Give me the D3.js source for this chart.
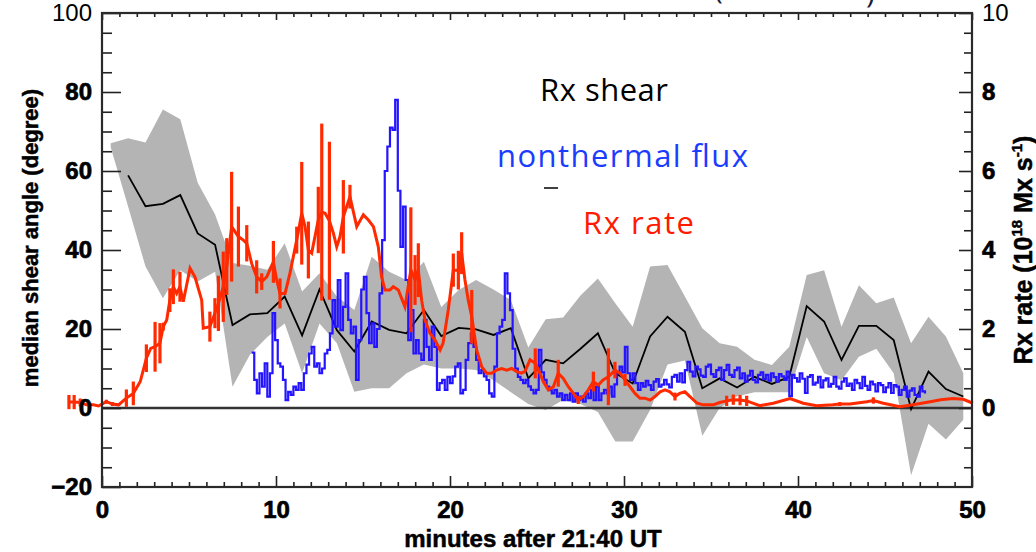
<!DOCTYPE html>
<html>
<head>
<meta charset="utf-8">
<script src="https://cdn.jsdelivr.net/npm/d3@7"></script>
<style>
  html, body { margin: 0; padding: 0; background: #fff; }
  svg { display: block; }
</style>
</head>
<body>
<div id="chart"></div>
<script>
// shear range (gray band) and median shear, one sample per minute
const bandMinutes = [
  0.5, 1.5, 2.5, 3.5, 4.5, 5.5, 6.5, 7.5, 8.5, 9.5,
  10.5, 11.5, 12.5, 13.5, 14.5, 15.5, 16.5, 17.5, 18.5, 19.5,
  20.5, 21.5, 22.5, 23.5, 24.5, 25.5, 26.5, 27.5, 28.5, 29.5,
  30.5, 31.5, 32.5, 33.5, 34.5, 35.5, 36.5, 37.5, 38.5, 39.5,
  40.5, 41.5, 42.5, 43.5, 44.5, 45.5, 46.5, 47.5, 48.5, 49.5
]
const shearUpper = [
  67, 68.3, 67.2, 75.6, 73.1, 57, 49, 36.7, 36, 35,
  41.7, 29.5, 34.1, 28.2, 24.8, 38.3, 34.5, 32.4, 37, 25.6,
  29.9, 32.4, 30, 27.3, 15.3, 22.5, 22.9, 28.5, 32.8, 26.5,
  20.6, 35.8, 36.2, 28.2, 20.2, 16.4, 15.5, 12.2, 10.9, 15.5,
  33.7, 34.9, 20.6, 31.1, 26.5, 28, 16.4, 23.1, 18.1, 8.8
]
const shearLower = [
  66, 51, 35.8, 27.8, 34.9, 32, 34.5, 5.4, 13.5, 18,
  21.4, 8.8, 21.4, 16.4, 4.1, 5, 5, 8.8, 11, 10,
  10, 9.6, 7, 4, 1, -0.5, 2, 1, -1, -8.5,
  -8.5, -0.5, 11, 12, -7, 0, 3, 4, 4, 4,
  18, 8.8, 7, 13, 15, 8.8, -17, -4, -8, -3
]
const medianMinutes = bandMinutes.slice(1)
const medianShear = [
  58.9, 51.1, 51.7, 53.9, 44.2, 41.3, 21.0, 23.7, 24.0, 28.2,
  18.4, 30.0, 19.7, 14.3, 21.9, 19.8, 18.9, 24.8, 18.2, 20.3,
  19.9, 18.5, 20.2, 7.5, 12.2, 11.3, 15.0, 18.9, 8.8, 6.2,
  18.1, 23.1, 19.3, 5.0, 7.5, 5.2, 7.9, 6.1, 7.9, 25.8,
  21.9, 12.2, 20.8, 20.8, 17.2, -0.3, 9.2, 4.8, 2.9
]

// nonthermal (HXR) flux, arbitrary units on the left scale
const fluxStart = 8.6
const fluxCadence = 0.15
const nonthermalFlux = [
  14.0, 7.1, 3.7, 8.8, 5.4, 11.3, 2.9, 8.8, 24.0, 17.2,
  11.3, 10.5, 7.1, 2.0, 4.1, 3.3, 5.4, 4.6, 6.3, 4.6,
  8.8, 11.0, 13.8, 15.5, 10.5, 11.3, 8.8, 10.0, 13.8, 14.7,
  18.9, 27.3, 20.6, 32.4, 19.7, 25.6, 34.1, 22.3, 18.9, 20.6,
  7.1, 17.2, 30.0, 33.2, 24.0, 16.4, 21.4, 15.5, 20.0, 29.0,
  42.5, 60.0, 66.2, 71.0, 70.4, 78.0, 55.0, 40.8, 51.0, 32.4,
  17.2, 24.8, 13.8, 17.2, 13.8, 12.2, 22.3, 15.5, 12.2, 20.6,
  15.5, 4.6, 6.3, 7.1, 4.6, 7.9, 6.3, 8.0, 10.5, 11.3,
  3.7, 4.6, 12.2, 16.4, 18.9, 15.5, 12.2, 8.8, 9.6, 8.0,
  7.1, 3.7, 2.9, 10.5, 18.9, 20.6, 22.3, 34.1, 29.0, 24.8,
  15.0, 10.0, 7.9, 7.1, 6.3, 7.1, 5.5, 4.6, 3.7, 4.6,
  14.7, 9.0, 7.1, 5.4, 4.5, 3.7, 4.6, 2.9, 3.7, 2.0,
  3.3, 2.0, 3.7, 1.6, 3.7, 2.0, 2.9, 1.6, 3.7, 2.5,
  4.6, 2.0, 5.4, 2.0, 3.7, 4.6, 3.7, 5.4, 2.9, 6.0,
  8.8, 10.5, 9.0, 15.5, 8.8, 7.1, 8.8, 6.3, 4.6, 6.3,
  5.4, 6.9, 5.8, 4.6, 6.7, 7.3, 5.4, 5.9, 7.1, 6.0,
  5.2, 7.9, 8.4, 6.7, 8.8, 6.5, 9.6, 11.7, 9.2, 8.0,
  10.5, 9.8, 8.2, 7.9, 10.5, 11.0, 8.6, 7.9, 9.6, 10.2,
  7.1, 9.6, 10.9, 8.4, 7.9, 9.6, 10.2, 7.5, 8.8, 6.7,
  8.2, 9.4, 7.1, 6.5, 8.4, 9.0, 7.3, 8.4, 6.9, 8.8,
  7.8, 6.7, 8.6, 8.0, 7.1, 9.2, 3.0, 8.4, 7.6, 6.7,
  8.8, 7.4, 3.8, 7.9, 8.3, 5.9, 6.4, 7.9, 5.2, 7.0,
  7.5, 5.4, 6.1, 7.9, 5.4, 4.9, 6.7, 7.5, 5.6, 6.2,
  4.6, 7.1, 6.3, 5.0, 7.9, 5.6, 4.6, 6.7, 6.0, 4.2,
  6.3, 5.8, 4.0, 5.2, 6.3, 3.8, 5.8, 5.4, 3.3, 4.6,
  5.4, 2.9, 4.4, 5.0, 3.3, 2.9, 5.4, 4.2, 3.7
]

// reconnection rate (10^18 Mx/s) with its error half-width
const rxMinutes = [
  -1.9, -1.6, -1.25, -0.9, -0.5, -0.2, 0.25, 0.6, 0.95, 1.4,
  1.8, 2.2, 2.55, 2.8, 3.05, 3.33, 3.52, 3.72, 3.9, 4.1,
  4.29, 4.48, 4.67, 5.06, 5.34, 5.73, 5.82, 6.2, 6.49, 6.69,
  6.97, 7.17, 7.45, 7.84, 8.12, 8.32, 8.6, 8.89, 9.18, 9.47,
  9.85, 10.04, 10.23, 10.52, 10.8, 11.19, 11.48, 11.67, 11.86, 12.05,
  12.24, 12.43, 12.63, 12.82, 13.07, 13.3, 13.49, 13.68, 13.87, 14.25,
  14.64, 15.02, 15.31, 15.6, 15.88, 16.07, 16.26, 16.55, 16.74, 17.03,
  17.41, 17.75, 17.99, 18.18, 18.37, 18.56, 18.85, 19.14, 19.43, 19.6,
  19.9, 20.19, 20.48, 20.67, 20.86, 21.05, 21.25, 21.53, 21.82, 22.1,
  22.39, 22.68, 22.97, 23.26, 23.55, 23.83, 24.1, 24.3, 24.6, 24.9,
  25.17, 25.36, 25.65, 25.94, 26.22, 26.51, 26.8, 27.09, 27.37, 27.66,
  27.95, 28.24, 28.52, 28.8, 29.1, 29.48, 29.77, 30.06, 30.34, 30.63,
  30.92, 31.2, 31.5, 31.78, 32.07, 32.36, 32.64, 32.93, 33.2, 33.5,
  33.79, 34.2, 34.56, 35.13, 35.5, 35.9, 36.28, 36.67, 37.05, 37.8,
  38.58, 39.54, 40.3, 41.07, 42.0, 42.4, 42.99, 43.95, 44.33, 44.9,
  45.86, 46.6, 47.6, 48.2, 48.9, 49.5, 50.05
]
const rxRate = [
  0.15, 0.15, 0.14, 0.08, 0.08, 0.05, 0.16, 0.10, 0.08, 0.25,
  0.37, 0.67, 1.26, 1.51, 1.55, 1.64, 2.06, 2.23, 2.73, 3.07,
  2.90, 3.07, 2.69, 3.54, 3.32, 2.73, 2.02, 2.06, 2.40, 2.65,
  3.07, 3.58, 4.59, 4.34, 4.25, 4.17, 3.66, 3.32, 3.20, 3.32,
  3.70, 3.24, 2.90, 2.90, 3.41, 4.25, 4.93, 4.59, 4.00, 3.92,
  4.34, 4.76, 4.96, 4.93, 4.74, 4.42, 4.08, 4.34, 4.84, 5.35,
  4.59, 4.89, 4.76, 4.59, 4.08, 3.32, 2.99, 2.99, 3.07, 2.99,
  2.56, 3.50, 3.24, 3.49, 2.73, 2.23, 1.89, 1.72, 1.47, 1.64,
  2.48, 3.49, 3.49, 3.92, 3.24, 2.73, 2.31, 1.47, 1.05, 0.88,
  0.88, 0.96, 1.00, 0.96, 1.00, 0.92, 0.88, 0.92, 1.22, 1.13,
  0.88, 0.67, 0.46, 0.54, 0.88, 0.75, 0.54, 0.37, 0.20, 0.29,
  0.46, 0.67, 0.58, 0.71, 0.79, 0.96, 0.88, 0.71, 0.54, 0.37,
  0.25, 0.25, 0.20, 0.29, 0.41, 0.46, 0.41, 0.29, 0.37, 0.41,
  0.29, 0.12, 0.08, 0.08, 0.14, 0.18, 0.21, 0.20, 0.18, 0.06,
  0.12, 0.24, 0.12, 0.06, 0.08, 0.10, 0.10, 0.16, 0.19, 0.12,
  0.03, 0.08, 0.16, 0.21, 0.24, 0.22, 0.12
]
const rxError = [
  0.18, 0.18, 0.10, 0, 0, 0, 0.05, 0.05, 0.03, 0.22,
  0.30, 0, 0.35, 0, 0.63, 0.51, 0.10, 0, 0.30, 0.44,
  0, 0.38, 0, 0, 0, 0, 0, 0.38, 0.38, 0.70,
  0.89, 0.72, 1.39, 0.76, 0, 0.46, 0, 0.42, 0.21, 0,
  0.53, 0, 0.38, 0, 0, 0.34, 1.30, 0, 0.72, 0,
  0, 0.84, 2.24, 0, 2.00, 0, 0, 0, 0.93, 0.30,
  0, 0, 0, 0, 0, 0, 0, 0, 0, 0,
  0, 1.58, 0.63, 0.68, 0, 0, 0, 0, 0, 0,
  0, 0.42, 0.49, 0.53, 0, 0, 0.68, 0, 0, 0,
  0, 0, 0, 0, 0, 0, 0, 0, 0, 0.38,
  0, 0, 0, 0, 0.34, 0, 0, 0, 0.10, 0,
  0, 0.25, 0, 0, 0.72, 0.21, 0, 0.15, 0, 0,
  0, 0, 0, 0, 0, 0, 0, 0.10, 0, 0,
  0, 0, 0, 0, 0, 0.13, 0.13, 0.13, 0.13, 0,
  0, 0, 0, 0, 0, 0.05, 0, 0, 0.08, 0,
  0, 0, 0, 0, 0, 0, 0
]

const xTicks = [0, 10, 20, 30, 40, 50]
const shearTicks = [-20, 0, 20, 40, 60, 80, 100]
const rateTicks = [0, 2, 4, 6, 8, 10]

const width = 1036
const height = 552
const padding = { left: 102, top: 13, right: 64, bottom: 65 }
const chartWidth = width - (padding.left + padding.right)
const chartHeight = height - (padding.top + padding.bottom)

const tickFont = "'Liberation Sans', Arial, Helvetica, sans-serif"
const labelFont = "'Open Sans', 'Noto Sans', sans-serif"

const xScale = d3.scaleLinear().domain([0, 50]).range([0, chartWidth])
const yShear = d3.scaleLinear().domain([-20, 100]).range([chartHeight, 0])
const yRate = d3.scaleLinear().domain([-2, 10]).range([chartHeight, 0])
const yFlux = d3.scaleLinear().domain([-20, 100]).range([chartHeight, 0])

const svg = d3.select('#chart').append('svg')
    .attr('width', width)
    .attr('height', height)

const chart = svg.append('g')
    .attr('transform', `translate(${padding.left}, ${padding.top})`)

// gray band: min/max shear
const band = bandMinutes.map((t, i) => ({ t, lo: shearLower[i], hi: shearUpper[i] }))
chart.append('path')
    .datum(band)
    .attr('fill', '#b4b4b4')
    .attr('d', d3.area()
      .x(d => xScale(d.t))
      .y0(d => yShear(d.lo))
      .y1(d => yShear(d.hi)))

// zero level
chart.append('line')
    .attr('x1', xScale(0))
    .attr('x2', xScale(50))
    .attr('y1', yShear(0))
    .attr('y2', yShear(0))
    .attr('stroke', '#333')
    .attr('stroke-width', 2.5)

// median shear
chart.append('path')
    .datum(medianMinutes.map((t, i) => ({ t, v: medianShear[i] })))
    .attr('fill', 'none')
    .attr('stroke', '#000')
    .attr('stroke-width', 1.8)
    .attr('d', d3.line().x(d => xScale(d.t)).y(d => yShear(d.v)))

// nonthermal flux, drawn as a histogram-style trace
const flux = nonthermalFlux.map((v, i) => ({ t: fluxStart + i * fluxCadence, v }))
chart.append('path')
    .datum(flux)
    .attr('fill', 'none')
    .attr('stroke', '#2414ff')
    .attr('stroke-width', 2.2)
    .attr('d', d3.line().curve(d3.curveStepAfter).x(d => xScale(d.t)).y(d => yFlux(d.v)))

// reconnection rate with error bars
const rx = rxMinutes.map((t, i) => ({ t, v: rxRate[i], e: rxError[i] }))
chart.append('path')
    .datum(rx)
    .attr('fill', 'none')
    .attr('stroke', '#ff2a00')
    .attr('stroke-width', 3)
    .attr('d', d3.line().x(d => xScale(d.t)).y(d => yRate(d.v)))

chart.selectAll('line.err')
    .data(rx.filter(d => d.e > 0)).enter()
  .append('line')
    .classed('err', true)
    .attr('x1', d => xScale(d.t))
    .attr('x2', d => xScale(d.t))
    .attr('y1', d => yRate(d.v - d.e))
    .attr('y2', d => yRate(d.v + d.e))
    .attr('stroke', '#ff2a00')
    .attr('stroke-width', 3.2)

// axes: major ticks labelled, minor ticks inward
function styleAxis(g, bold) {
  g.select('.domain').remove()
  g.selectAll('.tick line')
      .attr('stroke', '#222')
      .attr('stroke-width', 1.6)
  g.selectAll('.tick text')
      .attr('font-family', tickFont)
      .attr('font-size', 24)
      .attr('font-weight', d => (bold(d) ? 'bold' : 'normal'))
      .attr('fill', '#000')
      .attr('stroke', d => (bold(d) ? '#000' : 'none'))
      .attr('stroke-width', 0.7)
}

const minorMinutes = d3.range(0, 51).filter(m => m % 10 !== 0)
const minorShear = d3.range(-20, 101, 5).filter(v => v % 20 !== 0)
const minorRate = d3.range(-2, 10.01, 0.5).filter(v => v % 2 !== 0)

chart.append('g')
    .attr('transform', `translate(0, ${chartHeight})`)
    .call(d3.axisBottom(xScale).tickValues(xTicks).tickSizeInner(-11).tickSizeOuter(0).tickPadding(14))
    .call(g => styleAxis(g, () => true))

chart.append('g')
    .attr('transform', `translate(0, ${chartHeight})`)
    .call(d3.axisBottom(xScale).tickValues(minorMinutes).tickSizeInner(-5).tickSizeOuter(0).tickFormat(''))
    .call(g => styleAxis(g, () => true))

chart.append('g')
    .call(d3.axisTop(xScale).tickValues(xTicks).tickSizeInner(-7).tickSizeOuter(0).tickFormat(''))
    .call(g => styleAxis(g, () => true))

chart.append('g')
    .call(d3.axisTop(xScale).tickValues(minorMinutes).tickSizeInner(-4).tickSizeOuter(0).tickFormat(''))
    .call(g => styleAxis(g, () => true))

chart.append('g')
    .call(d3.axisLeft(yShear).tickValues(shearTicks).tickSizeInner(-19).tickSizeOuter(0).tickPadding(10))
    .call(g => styleAxis(g, d => d !== 100))

chart.append('g')
    .call(d3.axisLeft(yShear).tickValues(minorShear).tickSizeInner(-10).tickSizeOuter(0).tickFormat(''))
    .call(g => styleAxis(g, () => true))

chart.append('g')
    .attr('transform', `translate(${chartWidth}, 0)`)
    .call(d3.axisRight(yRate).tickValues(rateTicks).tickSizeInner(-13).tickSizeOuter(0).tickPadding(10))
    .call(g => styleAxis(g, d => d !== 10))

chart.append('g')
    .attr('transform', `translate(${chartWidth}, 0)`)
    .call(d3.axisRight(yRate).tickValues(minorRate).tickSizeInner(-8).tickSizeOuter(0).tickFormat(''))
    .call(g => styleAxis(g, () => true))

// plot frame
chart.append('rect')
    .attr('width', chartWidth)
    .attr('height', chartHeight)
    .attr('fill', 'none')
    .attr('stroke', '#2a2a2a')
    .attr('stroke-width', 2.2)

// axis titles
svg.append('text')
    .attr('transform', 'translate(38, 238) rotate(-90)')
    .attr('text-anchor', 'middle')
    .attr('font-family', tickFont)
    .attr('font-weight', 'bold')
    .attr('font-size', 22)
    .attr('stroke', '#000')
    .attr('stroke-width', 0.5)
    .text('median shear angle (degree)')

svg.append('text')
    .attr('x', 533)
    .attr('y', 547)
    .attr('text-anchor', 'middle')
    .attr('font-family', tickFont)
    .attr('font-weight', 'bold')
    .attr('font-size', 24)
    .attr('stroke', '#000')
    .attr('stroke-width', 0.5)
    .text('minutes after 21:40 UT')

const rateTitle = svg.append('text')
    .attr('transform', 'translate(1032, 250) rotate(-90)')
    .attr('text-anchor', 'middle')
    .attr('font-family', tickFont)
    .attr('font-weight', 'bold')
    .attr('font-size', 25)
    .attr('stroke', '#000')
    .attr('stroke-width', 0.5)
rateTitle.append('tspan').text('Rx rate (10')
rateTitle.append('tspan').attr('font-size', 15).attr('dy', -10).text('18')
rateTitle.append('tspan').attr('dy', 10).text(' Mx s')
rateTitle.append('tspan').attr('font-size', 15).attr('dy', -10).text('-1')
rateTitle.append('tspan').attr('dy', 10).text(')')

// title line above the frame (only its lower edge is on the page)
svg.append('text')
    .attr('x', 714).attr('y', -1)
    .attr('font-family', labelFont).attr('font-size', 30).attr('fill', '#1c1c3c')
    .text('(')
svg.append('text')
    .attr('x', 866).attr('y', 3)
    .attr('font-family', labelFont).attr('font-size', 30).attr('fill', '#1c1c3c')
    .text(')')

// curve labels
const labels = [
  { text: 'Rx shear', x: 540, y: 101, color: '#000', len: 128 },
  { text: 'nonthermal flux', x: 497, y: 167, color: '#1a3cff', len: 251 },
  { text: 'Rx rate', x: 583, y: 234, color: '#ff1a00', len: 111 }
]
svg.selectAll('text.curve-label')
    .data(labels).enter()
  .append('text')
    .classed('curve-label', true)
    .attr('x', d => d.x)
    .attr('y', d => d.y)
    .attr('fill', d => d.color)
    .attr('font-family', labelFont)
    .attr('font-size', 31)
    .attr('textLength', d => d.len)
    .attr('lengthAdjust', 'spacing')
    .text(d => d.text)

// stray dash under the Rx rate label
svg.append('line')
    .attr('x1', 544).attr('x2', 558)
    .attr('y1', 188).attr('y2', 188)
    .attr('stroke', '#000')
    .attr('stroke-width', 1.5)
</script>
</body>
</html>
